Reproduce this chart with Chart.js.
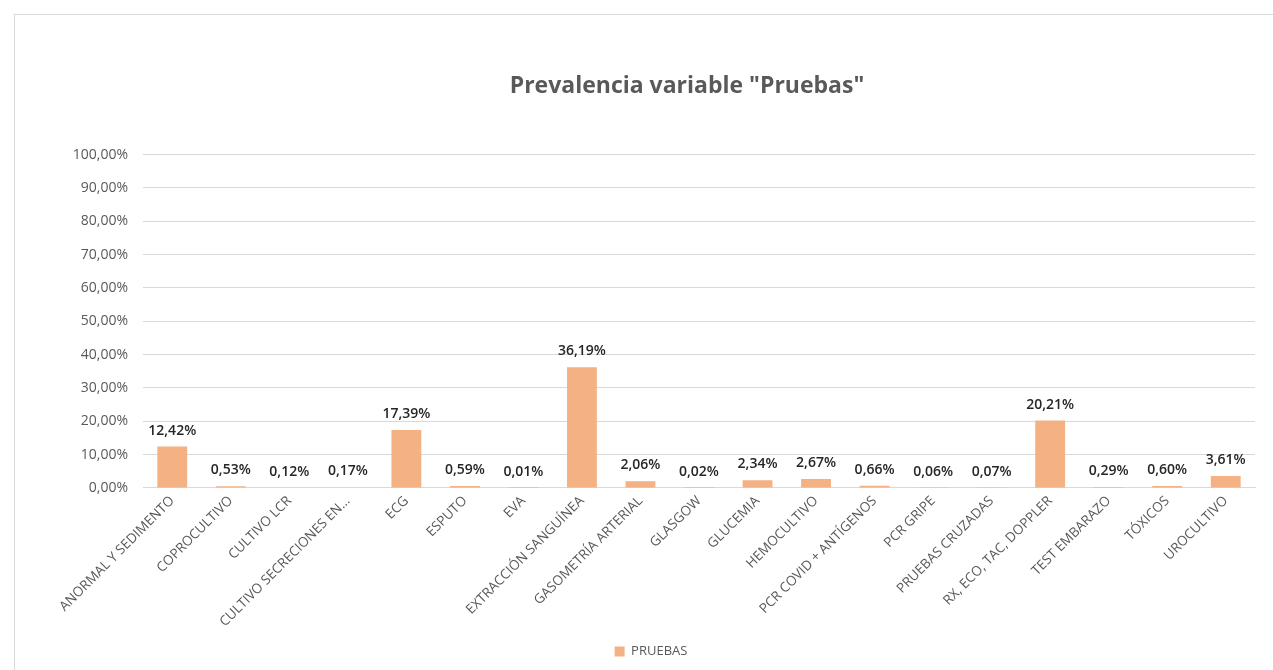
<!DOCTYPE html>
<html>
<head>
<meta charset="utf-8">
<script src="https://cdn.jsdelivr.net/npm/chart.js@4"></script>
<style>
  html, body { margin: 0; padding: 0; background: #fff; }
  #wrap { position: relative; width: 1273px; height: 670px; }
  #frame { position: absolute; left: 14px; top: 14px; right: 0; bottom: 0;
           border-top: 1px solid #d9d9d9; border-left: 1px solid #d9d9d9; }
  canvas { position: absolute; left: 0; top: 0; }
</style>
</head>
<body>
<div id="wrap">
  <div id="frame"></div>
  <canvas id="chart" width="1273" height="670"></canvas>
</div>
<script>
// Categories (x axis)
const categories = [
  'ANORMAL Y SEDIMENTO', 'COPROCULTIVO', 'CULTIVO LCR', 'CULTIVO SECRECIONES EN...',
  'ECG', 'ESPUTO', 'EVA', 'EXTRACCIÓN SANGUÍNEA', 'GASOMETRÍA ARTERIAL', 'GLASGOW',
  'GLUCEMIA', 'HEMOCULTIVO', 'PCR COVID + ANTÍGENOS', 'PCR GRIPE', 'PRUEBAS CRUZADAS',
  'RX, ECO, TAC, DOPPLER', 'TEST EMBARAZO', 'TÓXICOS', 'UROCULTIVO'
];

// Series values (%)
const pruebas = [
  12.42, 0.53, 0.12, 0.17, 17.39, 0.59, 0.01, 36.19, 2.06, 0.02,
  2.34, 2.67, 0.66, 0.06, 0.07, 20.21, 0.29, 0.60, 3.61
];

// Y tick values
const yTicks = [0, 10, 20, 30, 40, 50, 60, 70, 80, 90, 100];

const fmt = v => v.toFixed(2).replace('.', ',') + '%';
const FONT = "'Open Sans', 'Noto Sans', sans-serif";

// draw value labels above each bar
const valueLabels = {
  id: 'valueLabels',
  afterLayout(chart) {
    // title in the original sits a bit right of the canvas centre
    chart.titleBlock.left += 36;
    chart.titleBlock.right += 36;
  },
  afterDatasetsDraw(chart) {
    const ctx = chart.ctx;
    const meta = chart.getDatasetMeta(0);
    ctx.save();
    ctx.font = '600 14px ' + FONT;
    ctx.fillStyle = '#262626';
    ctx.textAlign = 'center';
    ctx.textBaseline = 'middle';
    meta.data.forEach((bar, i) => {
      ctx.fillText(fmt(pruebas[i]), bar.x, bar.y - 16);
    });
    ctx.restore();
  }
};

const ctx = document.getElementById('chart').getContext('2d');
new Chart(ctx, {
  type: 'bar',
  data: {
    labels: categories,
    datasets: [{
      label: 'PRUEBAS',
      data: pruebas,
      backgroundColor: '#F4B183',
      borderWidth: 0,
      barPercentage: 0.51,
      categoryPercentage: 1
    }]
  },
  options: {
    responsive: false,
    animation: false,
    layout: { padding: { left: 47, right: 18, top: 0, bottom: 2 } },
    plugins: {
      title: {
        display: true,
        text: 'Prevalencia variable "Pruebas"',
        color: '#595959',
        font: { family: FONT, size: 23, weight: 'bold' },
        padding: { top: 73, bottom: 54 }
      },
      legend: {
        position: 'bottom',
        labels: {
          color: '#595959',
          font: { family: FONT, size: 13 },
          boxWidth: 10,
          boxHeight: 10,
          padding: 10
        }
      },
      tooltip: { enabled: false }
    },
    scales: {
      x: {
        grid: { display: false, drawTicks: false },
        border: { color: '#d9d9d9' },
        ticks: {
          color: '#595959',
          font: { family: FONT, size: 13.5 },
          maxRotation: 45,
          minRotation: 45,
          autoSkip: false,
          padding: 5
        }
      },
      y: {
        min: 0,
        max: 100,
        afterBuildTicks(axis) { axis.ticks = yTicks.map(v => ({ value: v })); },
        afterFit(axis) { axis.width = 96; },
        grid: { color: '#d9d9d9', drawTicks: false },
        border: { display: false },
        ticks: {
          color: '#595959',
          font: { family: FONT, size: 14 },
          padding: 15,
          callback: v => fmt(v)
        }
      }
    }
  },
  plugins: [valueLabels]
});
</script>
</body>
</html>
